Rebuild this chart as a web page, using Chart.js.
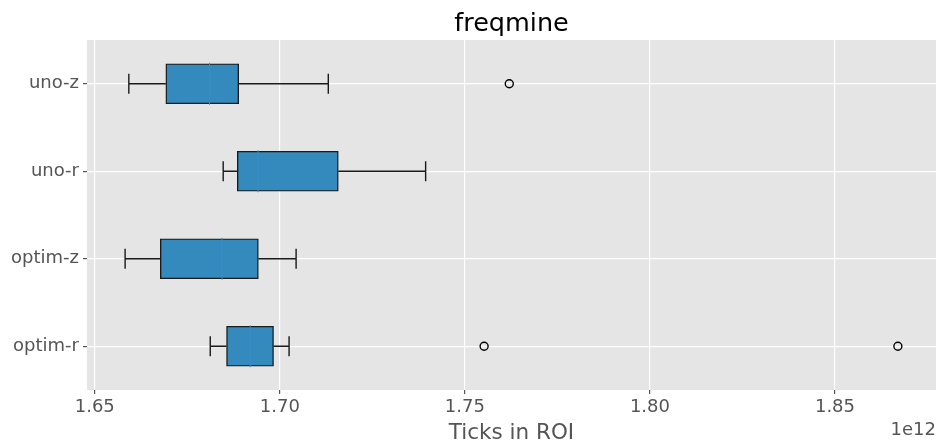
<!DOCTYPE html>
<html>
<head>
<meta charset="utf-8">
<script src="https://cdn.jsdelivr.net/npm/chart.js@4.4.1/dist/chart.umd.min.js"></script>
<style>
  html, body { margin: 0; padding: 0; background: #fff; }
  #wrap { width: 940px; height: 445px; position: relative; }
</style>
</head>
<body>
<div id="wrap"><canvas id="chart" width="940" height="445"></canvas></div>
<script>
// box plot stats, values in units of 1e12 ticks
const labels = ["uno-z", "uno-r", "optim-z", "optim-r"];
const whiskerLow = [1.6592, 1.6847, 1.6582, 1.6812];
const q1 = [1.6692, 1.6885, 1.6677, 1.6856];
const medians = [1.6810, 1.6941, 1.6844, 1.6920];
const q3 = [1.6889, 1.7158, 1.6942, 1.6983];
const whiskerHigh = [1.7131, 1.7394, 1.7044, 1.7025];
const outliers = [[1.7620], [], [], [1.7552, 1.8670]];
const xTicks = [1.65, 1.70, 1.75, 1.80, 1.85];
const scaleExp = 1e12;

const boxFill = "#348ABD";
const edge = "#1a1a1a";

// whiskers, caps, medians and fliers
const boxExtras = {
  id: "boxExtras",
  afterDatasetsDraw(chart) {
    const ctx = chart.ctx;
    const xs = chart.scales.x;
    const ys = chart.scales.y;
    const meta = chart.getDatasetMeta(0);
    ctx.save();
    labels.forEach((lab, i) => {
      const yc = ys.getPixelForValue(i);
      const half = meta.data[i].height / 2;
      const px = v => xs.getPixelForValue(v * scaleExp);
      ctx.strokeStyle = edge;
      ctx.lineWidth = 1.4;
      ctx.beginPath();
      ctx.moveTo(px(whiskerLow[i]), yc);
      ctx.lineTo(px(q1[i]), yc);
      ctx.moveTo(px(q3[i]), yc);
      ctx.lineTo(px(whiskerHigh[i]), yc);
      ctx.moveTo(px(whiskerLow[i]), yc - half / 2);
      ctx.lineTo(px(whiskerLow[i]), yc + half / 2);
      ctx.moveTo(px(whiskerHigh[i]), yc - half / 2);
      ctx.lineTo(px(whiskerHigh[i]), yc + half / 2);
      ctx.stroke();
      // median
      ctx.strokeStyle = "#3a8cc4";
      ctx.lineWidth = 1;
      ctx.beginPath();
      ctx.moveTo(px(medians[i]), yc - half - 1);
      ctx.lineTo(px(medians[i]), yc + half + 1);
      ctx.stroke();
      // fliers
      ctx.strokeStyle = "#000";
      ctx.lineWidth = 1.4;
      outliers[i].forEach(v => {
        ctx.beginPath();
        ctx.arc(px(v), yc, 4, 0, Math.PI * 2);
        ctx.stroke();
      });
    });
    ctx.restore();
  },
  afterDraw(chart) {
    const ctx = chart.ctx;
    const area = chart.chartArea;
    const cx = (area.left + area.right) / 2;
    ctx.save();
    ctx.fillStyle = "#000";
    ctx.font = "25.5px 'DejaVu Sans'";
    ctx.textAlign = "center";
    ctx.textBaseline = "alphabetic";
    ctx.fillText("freqmine", cx, 31);
    ctx.fillStyle = "#555";
    ctx.font = "21.5px 'DejaVu Sans'";
    ctx.fillText("Ticks in ROI", cx, 439);
    ctx.font = "18px 'DejaVu Sans'";
    ctx.textAlign = "right";
    ctx.fillText("1e12", area.right, 435);
    ctx.restore();
  }
};

const plotBg = {
  id: "plotBg",
  beforeDraw(chart) {
    const a = chart.chartArea;
    chart.ctx.save();
    chart.ctx.fillStyle = "#E5E5E5";
    chart.ctx.fillRect(a.left, a.top, a.right - a.left, a.bottom - a.top);
    chart.ctx.restore();
  }
};

new Chart(document.getElementById("chart"), {
  type: "bar",
  data: {
    labels: labels,
    datasets: [{
      data: labels.map((l, i) => [q1[i] * scaleExp, q3[i] * scaleExp]),
      backgroundColor: boxFill,
      borderColor: edge,
      borderWidth: 1.4,
      borderSkipped: false,
      barThickness: 40
    }]
  },
  plugins: [plotBg, boxExtras],
  options: {
    indexAxis: "y",
    responsive: false,
    animation: false,
    layout: { padding: { top: 40, right: 4, left: 0, bottom: 0 } },
    plugins: { legend: { display: false }, tooltip: { enabled: false } },
    scales: {
      x: {
        min: 1.6479 * scaleExp,
        max: 1.8773 * scaleExp,
        afterBuildTicks: s => { s.ticks = xTicks.map(v => ({ value: v * scaleExp })); },
        afterFit: s => { s.height = 55; },
        border: { display: false },
        grid: { color: "#fff", lineWidth: 1.2, tickColor: "#555", tickLength: 4, drawTicks: true },
        ticks: {
          color: "#555",
          font: { family: "DejaVu Sans", size: 18 },
          padding: 3,
          maxRotation: 0,
          callback: v => (v / scaleExp).toFixed(2)
        }
      },
      y: {
        afterFit: s => { s.width = 87; },
        border: { display: false },
        grid: { color: "#fff", lineWidth: 1.2, offset: false, tickColor: "#555", tickLength: 4 },
        ticks: {
          color: "#555",
          font: { family: "DejaVu Sans", size: 18 },
          padding: 4
        }
      }
    }
  }
});
</script>
</body>
</html>
